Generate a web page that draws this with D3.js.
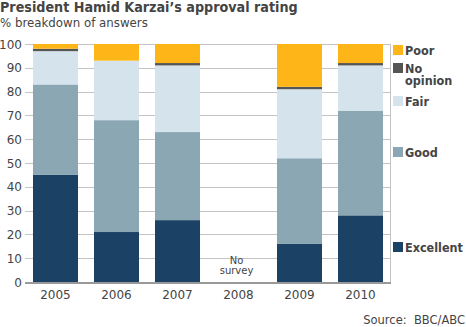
<!DOCTYPE html>
<html><head><meta charset="utf-8">
<script src="https://cdn.jsdelivr.net/npm/d3@7"></script>
<style>
body{margin:0;background:#fff;}
svg{display:block;font-family:"DejaVu Sans",Verdana,sans-serif;}
.cond{font-family:"DejaVu Sans Condensed","DejaVu Sans",sans-serif;font-stretch:condensed;}
</style></head>
<body><svg id="c" width="466" height="327"></svg>
<script>
const years = ["2005","2006","2007","2008","2009","2010"];
const seriesNames = ["Excellent","Good","Fair","No opinion","Poor"];
const excellent = [45,21,26,null,16,28];
const good      = [38,47,37,null,36,44];
const fair      = [14,25,28,null,29,19];
const noOpinion = [1,0,1,null,1,1];
const poor      = [2,7,8,null,18,8];
const yTicks = [0,10,20,30,40,50,60,70,80,90,100];
const colors = ["#1b4264","#8ba7b4","#d4e3ec","#555555","#fdb518"];
const legendLabels = [["Excellent"],["Good"],["Fair"],["No","opinion"],["Poor"]];

(function(){
const svg = d3.select("#c");
const pl = 25, pr = 391, pt = 44, pb = 282;
const x = d3.scaleBand().domain(years).range([pl, pr]).paddingInner(0.262).paddingOuter(0.131);
const y = d3.scaleLinear().domain([0,100]).range([pb, pt]);

const rows = years.map((yr,i)=>({year:yr, Excellent:excellent[i]||0, Good:good[i]||0, Fair:fair[i]||0, "No opinion":noOpinion[i]||0, Poor:poor[i]||0, missing: excellent[i]==null}));
const stack = d3.stack().keys(seriesNames)(rows.filter(r=>!r.missing));

svg.append("text").attr("class","cond").attr("x",0).attr("y",12).attr("fill","#444").attr("font-weight","bold").attr("font-size",14.2).text("President Hamid Karzai\u2019s approval rating");
svg.append("text").attr("x",0).attr("y",27).attr("fill","#444").attr("font-size",11.8).text("% breakdown of answers");

svg.append("g").selectAll("line").data(yTicks.filter(d=>d>0)).join("line")
  .attr("x1",pl).attr("x2",pr-1).attr("y1",d=>Math.round(y(d))+0.5).attr("y2",d=>Math.round(y(d))+0.5)
  .attr("stroke","#c4c4c4").attr("stroke-width",1);
svg.append("line").attr("x1",pr-0.5).attr("x2",pr-0.5).attr("y1",pt).attr("y2",pb).attr("stroke","#c4c4c4");

svg.append("g").selectAll("g").data(stack).join("g").attr("fill",(d,i)=>colors[i])
  .selectAll("rect").data(d=>d).join("rect")
  .attr("x",d=>x(d.data.year)).attr("width",x.bandwidth())
  .attr("y",d=>y(d[1])).attr("height",d=>y(d[0])-y(d[1]));

svg.append("line").attr("x1",pl).attr("x2",pr).attr("y1",pb+1).attr("y2",pb+1).attr("stroke","#999").attr("stroke-width",2);

svg.append("g").selectAll("text").data(yTicks).join("text")
  .attr("x",22).attr("y",d=>y(d)+4.5).attr("text-anchor","end").attr("fill","#444").attr("font-size",12).text(d=>d);

svg.append("g").selectAll("text").data(years).join("text")
  .attr("x",d=>x(d)+x.bandwidth()/2).attr("y",299).attr("text-anchor","middle").attr("fill","#444").attr("font-size",12).text(d=>d);

const ms = rows.find(r=>r.missing);
const nsx = x(ms.year)+x.bandwidth()/2-2;
const ns = svg.append("text").attr("text-anchor","middle").attr("fill","#444").attr("font-size",10);
ns.append("tspan").attr("x",nsx).attr("y",264).text("No");
ns.append("tspan").attr("x",nsx).attr("y",274).text("survey");

const legY = [242,147,96,63,45];
const lg = svg.append("g");
seriesNames.forEach((s,i)=>{
  lg.append("rect").attr("x",393).attr("y",legY[i]).attr("width",10).attr("height",10).attr("fill",colors[i]);
  const t = lg.append("text").attr("class","cond").attr("fill","#444").attr("font-weight","bold").attr("font-size",12.5);
  legendLabels[i].forEach((line,j)=>{
    t.append("tspan").attr("x",405).attr("y",legY[i]+10+j*11.5).text(line);
  });
});

svg.append("text").attr("x",465).attr("y",324).attr("text-anchor","end").attr("fill","#444").attr("font-size",11.5).attr("xml:space","preserve").text("Source:  BBC/ABC");
})();
</script></body></html>
